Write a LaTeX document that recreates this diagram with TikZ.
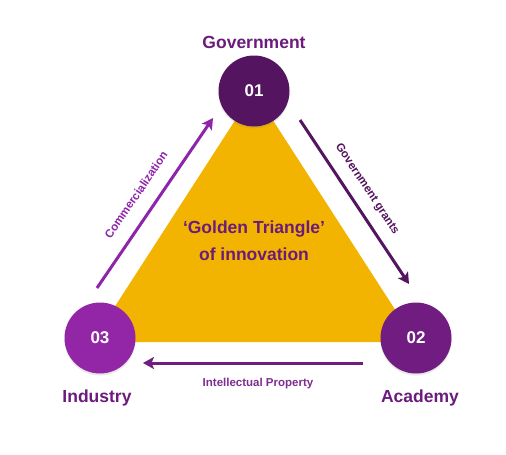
\documentclass[tikz,border=0pt]{standalone}
\usepackage{fontspec}
\setmainfont{Liberation Sans}
\usetikzlibrary{arrows.meta,shadows}
\definecolor{gold}{HTML}{F2B400}
\definecolor{pone}{HTML}{54145F}
\definecolor{ptwo}{HTML}{701C80}
\definecolor{pthree}{HTML}{9326A6}
\definecolor{ptext}{HTML}{6B1B7B}
\definecolor{pcom}{HTML}{8E24AA}
\definecolor{pip}{HTML}{7E2D91}
\tikzset{
  hub/.style={circle, minimum size=71pt, inner sep=0pt, text=white,
    font=\fontsize{17}{20}\selectfont\bfseries,
    drop shadow={opacity=0.18, shadow xshift=0pt, shadow yshift=-2pt}},
  title/.style={text=ptext, font=\fontsize{17.5}{21}\selectfont\bfseries},
  flow/.style={line width=3pt, -{Stealth[length=11pt,width=12pt,inset=2.5pt]}},
  flowlabel/.style={font=\fontsize{11.5}{14}\selectfont\bfseries},
}
\begin{document}
\begin{tikzpicture}[x=1pt,y=-1pt]
\useasboundingbox (0,0) rectangle (506,455);
\fill[white] (0,0) rectangle (506,455);
% triangle
\fill[gold] (254,91) -- (92,342) -- (416,342) -- cycle;
\node[align=center, text=ptext, font=\fontsize{17.5}{27}\selectfont\bfseries] (mid) at (254,241) {‘Golden Triangle’\\of innovation};
% hubs
\node[hub, fill=pone] (c1) at (254,91) {01};
\node[hub, fill=ptwo] (c2) at (416,338) {02};
\node[hub, fill=pthree] (c3) at (100,338) {03};
% titles
\node[title] (t1) at (254,42) {Government};
\node[title] (t2) at (420,398) {Academy};
\node[title] (t3) at (97,398) {Industry};
% arrow ends
\coordinate (a1s) at (97,288);
\coordinate (a1e) at (213,118);
\coordinate (a2s) at (300,120);
\coordinate (a2e) at (409,284);
\coordinate (a3s) at (363,363);
\coordinate (a3e) at (143,363);
\draw[flow, pcom] (a1s) -- (a1e);
\draw[flow, pone] (a2s) -- (a2e);
\draw[flow, ptwo] (a3s) -- (a3e);
% arrow labels
\node[flowlabel, text=pcom, rotate=55.7] (l1) at (136,195) {Commercialization};
\node[flowlabel, text=pone, rotate=-56.4] (l2) at (367,189) {Government grants};
\node[flowlabel, text=pip] (l3) at (258,384) {Intellectual Property};
\end{tikzpicture}
\end{document}
